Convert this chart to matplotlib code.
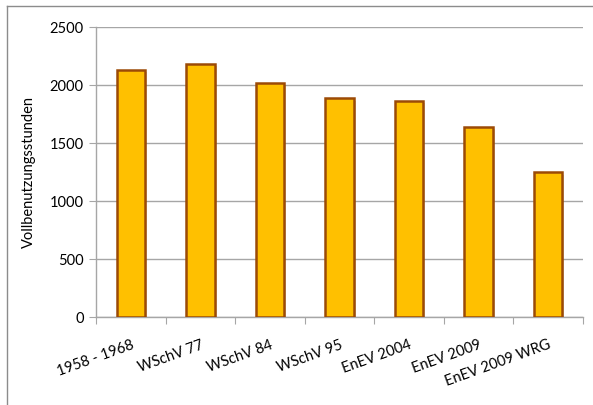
import matplotlib
matplotlib.use("Agg")
import matplotlib.pyplot as plt
import matplotlib.patheffects as pe
from matplotlib.lines import Line2D

# Daten
kategorien = ["1958 - 1968", "WSchV 77", "WSchV 84", "WSchV 95",
              "EnEV 2004", "EnEV 2009", "EnEV 2009 WRG"]
stunden = [2127, 2181, 2020, 1885, 1865, 1641, 1247]
y_ticks = [0, 500, 1000, 1500, 2000, 2500]

plt.rcParams['font.family'] = ['Lato', 'DejaVu Sans']

fig = plt.figure(figsize=(5.93, 4.05), dpi=100)
ax = fig.add_axes([0.162, 0.217, 0.821, 0.716])

x = list(range(len(kategorien)))
bars = ax.bar(x, stunden, width=0.41, color='#FFC000', edgecolor='#9C4A06',
              linewidth=1.8, zorder=3)
for b in bars:
    b.set_path_effects([pe.SimplePatchShadow(offset=(1.5, -1.5), alpha=0.2),
                        pe.Normal()])

ax.set_xlim(-0.5, len(kategorien) - 0.5)
ax.set_ylim(0, 2500)
ax.set_yticks(y_ticks)
ax.set_yticklabels([str(v) for v in y_ticks], fontsize=10.5)
ax.yaxis.grid(True, color='#A6A6A6', linewidth=1, zorder=0)
ax.set_axisbelow(True)

# Kategorie-Trennstriche
ax.set_xticks([i + 0.5 for i in range(-1, len(kategorien))])
ax.set_xticklabels([])
ax.set_xticks(x, minor=True)
ax.set_xticklabels(kategorien, minor=True, rotation=20, ha='right',
                   rotation_mode='anchor', fontsize=10.5)
ax.tick_params(axis='x', which='minor', length=0, pad=15)
ax.tick_params(axis='x', which='major', length=5, color='#A6A6A6')
ax.tick_params(axis='y', length=5, color='#A6A6A6', pad=4)

for s in ['top', 'right']:
    ax.spines[s].set_visible(False)
for s in ['left', 'bottom']:
    ax.spines[s].set_color('#A6A6A6')
    ax.spines[s].set_linewidth(1)

ax.set_ylabel("Vollbenutzungsstunden", fontsize=10.5, labelpad=10)

# Rahmen oben und links
fig.add_artist(Line2D([0.011, 0.011], [0, 0.986], color='#8C8C8C', linewidth=1))
fig.add_artist(Line2D([0.011, 1.0], [0.986, 0.986], color='#8C8C8C', linewidth=1))

fig.savefig("out.png", dpi=100)
